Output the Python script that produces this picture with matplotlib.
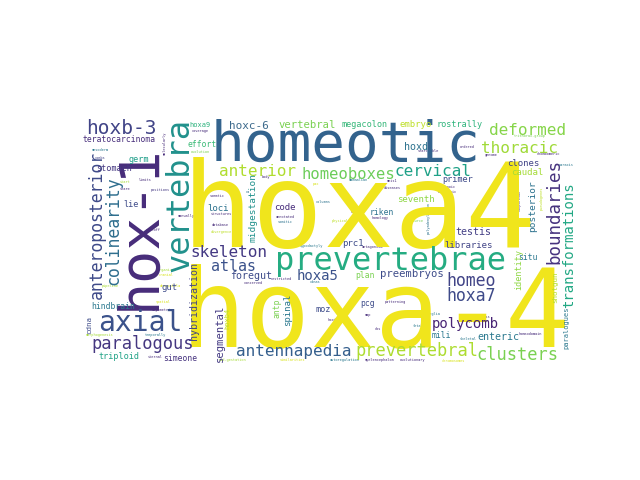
import matplotlib
matplotlib.use("Agg")
import matplotlib.pyplot as plt

# ------------------------------------------------------------
# word cloud: words and their size (font height in pixels)
# ------------------------------------------------------------
words = [
    "hoxa4", "hoxa-4", "homeotic", "hox-1", "vertebra", "prevertebrae",
    "axial", "paralogous", "anteroposterior", "colinearity", "hoxb-3",
    "skeleton", "atlas", "antennapedia", "prevertebral", "clusters",
    "boundaries", "transformations", "deformed", "thoracic", "cervical",
    "homeoboxes", "anterior", "homeo", "hoxa7", "polycomb", "hoxa5",
    "hybridization", "segmental", "hoxb4", "hindbrain", "cdna", "triploid",
    "simeone", "gut", "foregut", "stomach", "teratocarcinoma", "germ", "lie",
    "hoxa9", "effort", "hoxc-6", "vertebral", "megacolon", "embryo",
    "rostrally", "hoxd", "clones", "caudal", "primer", "posterior",
    "seventh", "riken", "testis", "midgestation", "code", "loci", "antp",
    "spinal", "moz", "pcg", "plan", "preembryos", "prc1", "libraries",
    "situ", "identity", "shotgun", "enteric", "mili", "paralogues",
]
sizes = [
    118, 108, 56, 55, 32, 32,
    28, 17, 16.5, 16.5, 19.5,
    16, 15, 16, 17, 17,
    17.5, 14, 16, 16, 16,
    15.5, 16, 16.5, 16.5, 14, 14,
    10, 10.5, 7, 8, 7.5, 8.5,
    8, 9, 10, 8.5, 8, 8.5, 8.5,
    7, 8, 11, 10.5, 8.5, 9,
    8.5, 10, 9, 9, 8.5, 9.5,
    9, 8, 10, 9.5, 9, 9, 8,
    9, 8.5, 8, 8, 10.5, 9, 9,
    8, 8.5, 7.5, 10, 8, 7,
]

# tiny filler words
small_words = [
    "mesoderm", "combs", "coverage", "evolution", "molecularly", "start",
    "limits", "share", "positions", "manually", "run-off", "somatic", "ra",
    "structures", "database", "divergence", "annotated", "somitic", "body",
    "pax", "mammalian", "meis1", "diseases", "columns", "murine", "homology",
    "physical", "retinoic", "embryonic", "resource", "polyadenylation",
    "searchable", "ordered", "genome", "rhombomeric", "trithorax-group",
    "paraxis", "comparison", "pseudogenes", "hypodactyly", "antagonism",
    "restricted", "conserved", "cdnas", "patterning", "hoxd4", "rbs", "map",
    "ganglia", "class", "fetal", "skeletal", "homeodomain", "evolutionary",
    "chromosomes", "autoregulation", "myelencephalon", "similarities",
    "mid-gestation", "sternal", "morphogenesis", "temporally", "asymmetric",
    "spatial", "pipeline", "organized", "cranial", "drosophila",
    "embryogenesis",
]

# ------------------------------------------------------------
# layout (pixel positions on the 640x480 canvas)
# horizontal words: (centre x, baseline y); vertical: (baseline x, centre y)
# ------------------------------------------------------------
layout = [
    (359, 247, 0), (376, 347, 0), (346, 161, 0), (155, 227, 90),
    (188, 195, 90), (390, 270, 0),
    (140, 331, 0), (143, 349, 0), (102, 225, 90), (118, 231, 90),
    (121, 134, 0),
    (229, 257, 0), (234, 271, 0), (294, 356, 0), (417, 356, 0),
    (517, 360, 0),
    (559, 212, 90), (573, 245, 90), (527, 135, 0), (520, 153, 0),
    (433, 176, 0),
    (348, 179, 0), (257, 176, 0), (471, 286, 0), (471, 301, 0),
    (465, 328, 0), (318, 280, 0),
    (197, 301, 90), (223, 333, 90), (229, 318, 90), (113, 309, 0),
    (91, 325, 90), (119, 359, 0),
    (180, 361, 0), (170, 290, 0), (251, 279, 0), (114, 171, 0),
    (119, 142, 0), (139, 162, 0), (131, 207, 0),
    (200, 127, 0), (202, 147, 0), (249, 129, 0), (307, 128, 0),
    (365, 127, 0), (416, 127, 0),
    (460, 127, 0), (416, 150, 0), (523, 166, 0), (527, 175, 0),
    (458, 182, 0), (535, 206, 90),
    (416, 202, 0), (382, 215, 0), (473, 235, 0), (256, 208, 90),
    (285, 210, 0), (218, 211, 0), (280, 308, 90),
    (290, 310, 90), (323, 312, 0), (368, 306, 0), (365, 278, 0),
    (412, 277, 0), (353, 246, 0), (468, 248, 0),
    (528, 260, 0), (521, 270, 90), (557, 287, 90), (498, 340, 0),
    (441, 338, 0), (568, 328, 90),
]
colors = [
    "#f0e51c", "#f0e51c", "#33638d", "#472c7a", "#21918c", "#25ac82",
    "#3b528b", "#453781", "#3e4a89", "#2e6e8e", "#414487",
    "#443983", "#3b528b", "#355f8d", "#addc30", "#7ad151",
    "#46327e", "#22a884", "#86d549", "#a0da39", "#1fa187",
    "#6ccd5a", "#b0dd2f", "#414487", "#3e4a89", "#482475", "#3b528b",
    "#414487", "#443a83", "#bddf26", "#2a788e", "#3e4c8a", "#20a386",
    "#46337f", "#3e4c8a", "#3e4c8a", "#453882", "#472d7b", "#1f9e89",
    "#3e4c8a",
    "#2db27d", "#3aba76", "#3d6a8c", "#7ad151", "#35b779", "#bddf26",
    "#2fb47c", "#2c728e", "#414487", "#a5db36", "#3e4a89", "#2c728e",
    "#8fd744", "#2c728e", "#433e85", "#21918c", "#472c7a", "#2c728e",
    "#7ad151",
    "#2a788e", "#3e4c8a", "#3e4c8a", "#7ad151", "#3e4c8a", "#3e4c8a",
    "#414487",
    "#2a788e", "#8fd744", "#b5de2b", "#2a788e", "#2a788e", "#2a788e",
]

small_layout = [
    (100, 151, 0), (100, 159, 0), (200, 132, 0), (200, 153, 0),
    (166, 143, 90), (125, 183, 0),
    (145, 181, 0), (125, 190, 0), (160, 191, 0), (186, 217, 0),
    (153, 231, 0), (217, 197, 0), (247, 193, 0),
    (221, 215, 0), (220, 226, 0), (221, 233, 0), (285, 218, 0),
    (285, 223, 0), (266, 178, 0),
    (316, 185, 0), (358, 181, 0), (392, 182, 0), (392, 189, 0),
    (323, 203, 0), (357, 213, 0), (380, 219, 0),
    (340, 222, 0), (447, 188, 0), (447, 193, 0), (415, 222, 0),
    (430, 218, 90),
    (428, 152, 0), (467, 148, 0), (491, 156, 0), (548, 155, 0),
    (530, 137, 0),
    (566, 166, 0), (521, 200, 90), (543, 198, 90), (311, 247, 0),
    (372, 248, 0),
    (281, 280, 0), (253, 284, 0), (315, 283, 0), (395, 303, 0),
    (333, 321, 0), (378, 330, 0), (368, 316, 0),
    (433, 315, 0), (485, 318, 0), (418, 327, 0), (468, 340, 0),
    (530, 335, 0), (413, 361, 0),
    (453, 362, 0), (345, 361, 0), (380, 361, 0), (292, 361, 0),
    (233, 361, 0), (155, 358, 0), (100, 336, 0), (155, 336, 0),
    (162, 311, 0),
    (163, 303, 0), (110, 287, 0), (167, 271, 0), (166, 276, 0),
    (170, 287, 0),
    (475, 322, 0),
]
small_colors = [
    "#2a788e", "#414487", "#472c7a", "#7ad151", "#472c7a", "#a5db36",
    "#472c7a", "#472c7a", "#443983", "#472c7a", "#472c7a", "#472c7a",
    "#2c728e",
    "#472c7a", "#472c7a", "#bddf26", "#472c7a", "#2c728e", "#472c7a",
    "#d8e219", "#2a788e", "#472c7a", "#472c7a", "#2c728e", "#472c7a",
    "#472c7a",
    "#bddf26", "#472c7a", "#472c7a", "#7ad151", "#2c728e",
    "#472c7a", "#472c7a", "#472c7a", "#472c7a", "#7ad151",
    "#2a788e", "#472c7a", "#bddf26", "#2a788e", "#472c7a",
    "#472c7a", "#472c7a", "#2a788e", "#472c7a", "#472c7a", "#472c7a",
    "#472c7a",
    "#2a788e", "#472c7a", "#2a788e", "#2a788e", "#472c7a", "#472c7a",
    "#d8e219", "#2a788e", "#472c7a", "#d8e219", "#a5db36", "#472c7a",
    "#a5db36", "#2a788e", "#472c7a",
    "#d8e219", "#a5db36", "#a5db36", "#d8e219", "#d8e219",
    "#472c7a",
]
small_size = 3.6

fig = plt.figure(figsize=(6.4, 4.8), dpi=100)
ax = fig.add_axes([0, 0, 1, 1])
ax.set_xlim(0, 640)
ax.set_ylim(480, 0)
ax.axis("off")

px_to_pt = 72 / fig.dpi


def draw(word, size, place, color):
    x, y, rot = place
    ax.text(x, y, word, fontsize=size * px_to_pt, family="DejaVu Sans Mono",
            color=color, rotation=rot, rotation_mode="anchor",
            ha="center", va="baseline")


for w, p, c in zip(small_words, small_layout, small_colors):
    draw(w, small_size, p, c)

for w, s, p, c in zip(words, sizes, layout, colors):
    draw(w, s, p, c)

fig.savefig("out.png", dpi=100)
